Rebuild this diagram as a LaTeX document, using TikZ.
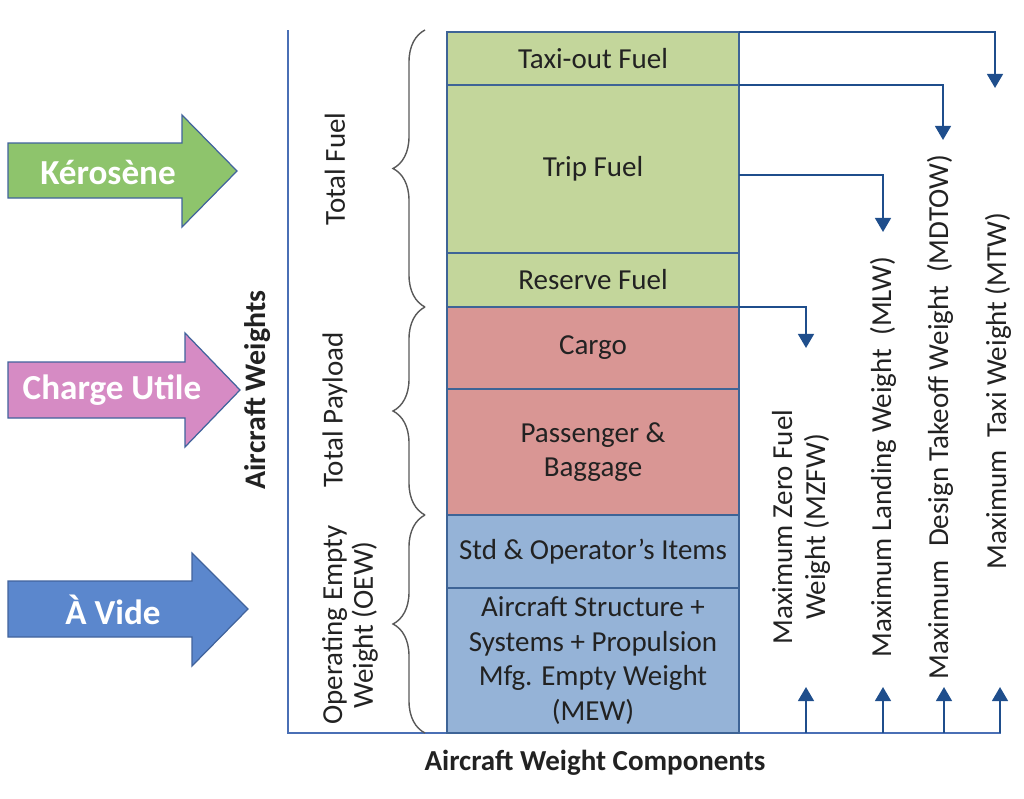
\documentclass[tikz,border=0pt]{standalone}
\usepackage{fontspec}
\setmainfont{Carlito}
\usetikzlibrary{decorations.pathreplacing,arrows.meta}
\definecolor{fuelgreen}{HTML}{C3D69B}
\definecolor{payred}{HTML}{D99694}
\definecolor{emptyblue}{HTML}{95B3D7}
\definecolor{boxline}{HTML}{3E6496}
\definecolor{axisblue}{HTML}{4A6FB5}
\definecolor{connblue}{HTML}{1F4E8C}
\definecolor{agreen}{HTML}{8EC46C}
\definecolor{apink}{HTML}{D68BC4}
\definecolor{ablue}{HTML}{5B87CD}
\definecolor{aborder}{HTML}{41639C}
\definecolor{txt}{HTML}{222222}
\begin{document}
\begin{tikzpicture}[x=0.02cm,y=-0.02cm,
  box/.style={draw=boxline,line width=0.9pt,inner sep=0pt,outer sep=0pt,
    minimum width=5.84cm,align=center,text=txt,
    font=\fontsize{16.5}{19.8}\selectfont},
  sidelabel/.style={rotate=90,align=center,text=txt,inner sep=0pt,
    font=\fontsize{16.5}{17.5}\selectfont},
  rightlabel/.style={rotate=90,align=center,text=txt,inner sep=0pt,
    font=\fontsize{16.5}{18.7}\selectfont},
  conn/.style={draw=connblue,line width=1.2pt,-{Triangle[width=9pt,length=8pt]}},
  axisline/.style={draw=axisblue,line width=1.3pt},
  bracestyle/.style={draw=black!65,line width=0.8pt,
    decorate,decoration={brace,amplitude=0.64cm}},
  bigarrow/.style={draw=aborder,line width=0.7pt},
  arrowtext/.style={text=white,font=\fontsize{20}{22}\selectfont\bfseries,inner sep=0pt}
]
\useasboundingbox (0,0) rectangle (1024,798);

% big arrows on the left
\draw[bigarrow,fill=agreen] (8,143) -- (182,143) -- (182,115) -- (237,171) -- (182,227) -- (182,198) -- (8,198) -- cycle;
\node[arrowtext] (kero) at (108,172) {Kérosène};
\draw[bigarrow,fill=apink] (8,362) -- (185,362) -- (185,333) -- (240,390) -- (185,447) -- (185,418) -- (8,418) -- cycle;
\node[arrowtext] (charge) at (112,390) {Charge Utile};
\draw[bigarrow,fill=ablue] (8,581) -- (192,581) -- (192,553) -- (248,609) -- (192,666) -- (192,637) -- (8,637) -- cycle;
\node[arrowtext] (vide) at (113,610) {À Vide};

% axes
\coordinate (ytop) at (288,30);
\coordinate (origin) at (288,733);
\coordinate (xend) at (1001,733);
\draw[axisline] (ytop) -- (origin) -- (xend);
\node[rotate=90,font=\fontsize{17}{19}\selectfont\bfseries,text=txt] (yaxis) at (258,390) {Aircraft Weights};
\node[font=\fontsize{16.5}{19}\selectfont\bfseries,text=txt] (xaxis) at (595,763) {Aircraft Weight Components};

% stacked boxes
\node[box,fill=fuelgreen,minimum height=1.06cm] (taxi) at (593,58.5) {Taxi-out Fuel};
\node[box,fill=fuelgreen,minimum height=3.36cm] (trip) at (593,169) {Trip Fuel};
\node[box,fill=fuelgreen,minimum height=1.08cm] (reserve) at (593,280) {Reserve Fuel};
\node[box,fill=payred,minimum height=1.64cm] (cargo) at (593,348) {Cargo};
\node[box,fill=payred,minimum height=2.52cm] (pass) at (593,452) {Passenger \&\\Baggage};
\node[box,fill=emptyblue,minimum height=1.46cm] (std) at (593,551.5) {Std \& Operator’s Items};
\node[box,fill=emptyblue,minimum height=2.9cm] (mew) at (593,660.5) {Aircraft Structure +\\Systems + Propulsion\\Mfg. Empty Weight\\(MEW)};

% braces
\draw[bracestyle] (425,307) -- (425,30);
\draw[bracestyle] (425,515) -- (425,307);
\draw[bracestyle] (425,733) -- (425,515);
\node[sidelabel] (tfuel) at (335,169) {Total Fuel};
\node[sidelabel] (tpay) at (335,410) {Total Payload};
\node[sidelabel] (oew) at (350,625) {Operating Empty\\Weight (OEW)};

% right labels
\node[rightlabel] (mzfw) at (801,527) {Maximum Zero Fuel\\Weight (MZFW)};
\node[rightlabel] (mlw) at (883,457) {Maximum Landing Weight\ \ (MLW)};
\node[rightlabel] (mdtow) at (940,417) {Maximum\ \ Design Takeoff Weight\ \ (MDTOW)};
\node[rightlabel] (mtw) at (998,391) {Maximum\ \ Taxi Weight (MTW)};

% top connectors
\coordinate (mtwtip) at (995,88);
\coordinate (mdtowtip) at (943,140);
\coordinate (mlwstart) at (739,175);
\coordinate (mlwtip) at (883,232);
\coordinate (mzfwtip) at (806,348);
\draw[conn] (taxi.north east) -| (mtwtip);
\draw[conn] (taxi.south east) -| (mdtowtip);
\draw[conn] (mlwstart) -| (mlwtip);
\draw[conn] (reserve.south east) -| (mzfwtip);

% bottom connectors
\foreach \i/\x in {1/806,2/883,3/944,4/1000}{
  \coordinate (b\i) at (\x,733);
  \coordinate (t\i) at (\x,687);
  \draw[conn] (b\i) -- (t\i);
}
\end{tikzpicture}
\end{document}
